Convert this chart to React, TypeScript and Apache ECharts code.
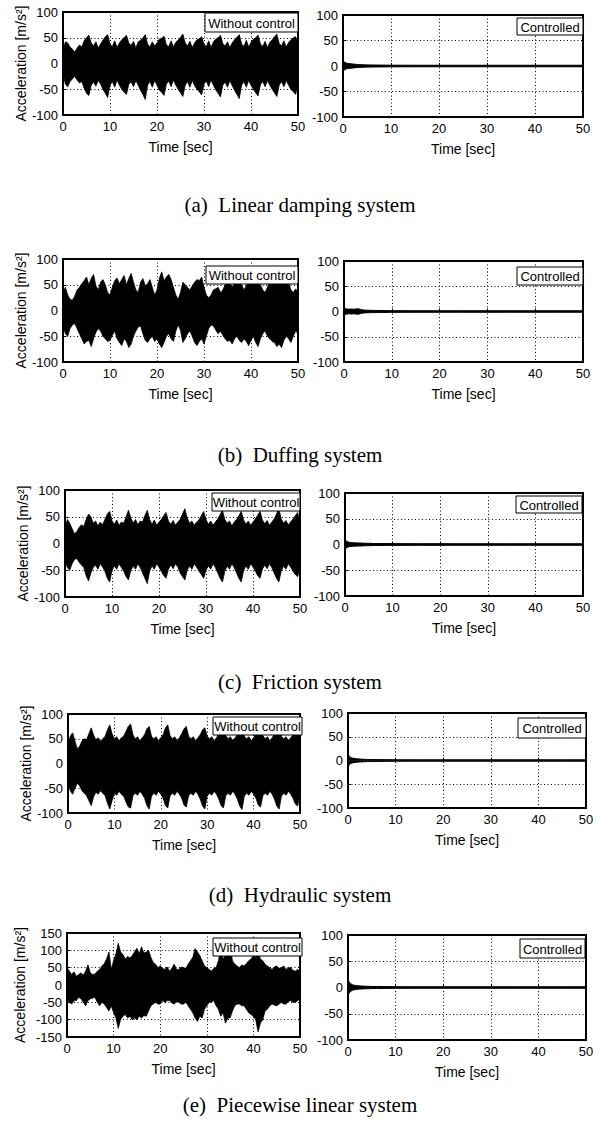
import React, { useEffect, useRef } from "react";
import * as echarts from "echarts";

// sampling step (s) of the envelope readings below
const STEP = 0.5;

// (a) Linear damping system – without control, envelope read every 0.5 s
const linUpper = [25,42,40,32,28,22,30,36,32,44,50,55,40,34,42,30,38,45,52,56,38,33,44,31,40,46,50,55,40,35,43,30,42,45,50,56,38,32,42,34,40,47,49,53,36,33,44,32,41,46,51,57,40,34,43,31,40,46,48,52,37,33,44,31,42,47,50,55,39,34,42,31,40,46,51,56,38,33,45,32,41,47,50,55,38,33,43,31,41,46,52,57,39,34,44,32,41,46,50,52,40];
const linLower = [-20,-40,-45,-35,-30,-25,-32,-38,-35,-48,-58,-62,-42,-36,-44,-33,-40,-50,-58,-66,-42,-35,-46,-32,-42,-50,-56,-60,-40,-36,-45,-33,-42,-52,-60,-70,-42,-35,-46,-33,-42,-52,-56,-62,-40,-34,-45,-32,-42,-50,-57,-64,-42,-35,-46,-33,-43,-50,-55,-61,-40,-34,-45,-32,-42,-51,-58,-65,-42,-36,-46,-33,-43,-52,-60,-68,-42,-35,-46,-33,-42,-50,-57,-63,-41,-35,-45,-33,-42,-50,-57,-64,-42,-35,-45,-33,-42,-50,-55,-60,-40];

// (b) Duffing system
const dufUpper = [35,45,30,22,20,28,40,45,52,58,65,50,62,70,48,40,55,60,50,35,30,45,58,63,52,60,68,50,62,72,55,40,35,55,62,48,52,60,45,30,40,62,75,58,65,70,60,45,30,22,35,55,50,45,40,48,55,60,58,65,45,30,25,30,40,42,45,35,40,50,55,52,45,55,58,60,50,40,48,55,50,58,62,65,50,40,35,45,58,65,70,60,55,50,62,65,55,40,35,42,35];
const dufLower = [-30,-45,-50,-35,-28,-25,-35,-45,-55,-65,-60,-58,-70,-55,-42,-35,-40,-50,-55,-60,-58,-48,-40,-55,-62,-68,-55,-60,-72,-65,-50,-40,-32,-30,-45,-58,-62,-55,-50,-60,-55,-65,-72,-62,-50,-45,-55,-60,-40,-28,-38,-62,-55,-45,-40,-50,-62,-68,-60,-55,-65,-50,-35,-28,-30,-38,-45,-40,-48,-55,-60,-58,-65,-55,-50,-58,-62,-55,-60,-68,-58,-50,-62,-70,-55,-45,-40,-50,-55,-60,-62,-70,-65,-72,-58,-50,-55,-62,-50,-40,-45];

// (c) Friction system
const friUpper = [30,45,38,28,18,22,30,35,32,45,55,50,38,42,33,40,35,45,55,60,42,36,44,34,40,38,50,62,48,38,45,35,42,40,52,62,45,36,44,34,40,45,52,58,42,36,43,34,40,45,55,65,48,38,42,34,40,44,52,60,45,36,42,34,40,46,54,62,45,38,42,33,40,45,52,60,44,36,42,34,40,46,53,60,44,37,43,34,40,46,55,65,46,38,43,35,40,46,52,58,40];
const friLower = [-30,-45,-50,-38,-30,-28,-35,-40,-45,-60,-70,-55,-45,-40,-48,-38,-44,-52,-65,-72,-50,-42,-48,-38,-45,-52,-62,-68,-50,-42,-48,-38,-45,-55,-65,-75,-52,-42,-48,-38,-44,-52,-60,-65,-48,-40,-47,-38,-44,-55,-62,-68,-50,-42,-48,-38,-44,-52,-58,-65,-50,-42,-48,-38,-45,-55,-65,-72,-52,-42,-48,-38,-45,-55,-65,-72,-50,-42,-48,-38,-44,-52,-60,-65,-48,-40,-47,-38,-45,-55,-65,-72,-52,-42,-48,-38,-44,-52,-58,-62,-45];

// (d) Hydraulic system
const hydUpper = [40,55,62,45,30,35,45,50,48,60,72,58,48,52,45,50,55,68,78,60,50,54,46,52,55,65,75,80,58,50,54,46,52,58,70,75,55,50,54,46,52,58,72,78,56,50,54,46,52,60,70,75,55,50,54,46,52,58,68,72,55,50,54,46,52,60,70,76,56,50,54,46,52,58,70,75,55,50,54,46,52,60,72,78,56,50,54,46,52,60,70,76,55,50,54,46,52,58,68,72,50];
const hydLower = [-40,-55,-62,-50,-40,-45,-55,-60,-65,-75,-85,-68,-58,-62,-55,-60,-65,-80,-92,-75,-60,-64,-56,-62,-66,-78,-88,-90,-65,-60,-64,-56,-62,-70,-85,-92,-66,-60,-64,-56,-62,-70,-85,-90,-65,-60,-64,-56,-62,-70,-84,-88,-65,-60,-64,-56,-62,-72,-86,-92,-66,-60,-64,-56,-62,-72,-85,-90,-65,-60,-64,-56,-62,-72,-86,-93,-66,-60,-64,-56,-62,-70,-84,-88,-65,-60,-64,-56,-62,-72,-86,-92,-66,-60,-64,-56,-62,-70,-82,-86,-60];

// (e) Piecewise linear system
const pwlUpper = [50,40,30,38,25,30,35,28,40,58,35,30,32,40,45,55,62,75,95,45,70,90,120,95,88,75,82,78,85,95,106,90,110,92,95,100,80,65,60,50,55,48,45,52,40,48,60,45,45,52,50,48,60,70,80,105,95,85,70,55,50,45,40,48,50,70,110,75,85,95,115,70,60,55,50,58,55,62,70,75,85,80,100,75,70,60,55,50,45,52,55,48,50,55,45,50,50,42,40,45,40];
const pwlLower = [-40,-50,-55,-45,-45,-35,-40,-50,-60,-45,-40,-38,-35,-50,-60,-50,-55,-65,-75,-60,-80,-95,-125,-100,-90,-85,-95,-90,-100,-95,-100,-90,-95,-88,-90,-75,-60,-55,-50,-55,-55,-45,-50,-45,-45,-52,-55,-48,-50,-55,-55,-50,-60,-70,-80,-95,-105,-90,-95,-70,-60,-50,-50,-45,-60,-70,-90,-80,-110,-95,-95,-75,-60,-55,-55,-60,-60,-70,-80,-85,-90,-100,-135,-110,-100,-75,-70,-60,-55,-58,-60,-55,-50,-55,-55,-48,-45,-50,-50,-45,-40];

// Controlled responses: residual amplitude envelope at irregular times
const ctrlTime = [0, 0.3, 0.6, 1, 1.5, 2, 2.5, 3, 3.5, 4, 5, 6, 8, 10, 15, 20, 25, 30, 35, 40, 45, 50];
const ctrlAmpA = [10, 8, 6, 5, 4.5, 4, 3.5, 3, 2.8, 2.5, 2.2, 2, 1.8, 1.6, 1.5, 1.5, 1.5, 1.5, 1.5, 1.5, 1.5, 1.5];
const ctrlAmpB = [8, 6, 5, 4.5, 5, 4.5, 5, 5.5, 4, 3, 2.5, 2.2, 2, 1.7, 1.6, 1.5, 1.5, 1.6, 1.5, 1.5, 1.5, 1.5];
const ctrlAmpC = [9, 7, 5, 4, 3.5, 3.5, 3, 3, 2.8, 2.5, 2.3, 2, 1.8, 1.7, 1.6, 1.6, 1.5, 1.5, 1.5, 1.5, 1.5, 1.5];
const ctrlAmpD = [14, 9, 6, 5, 4, 3.5, 3, 2.8, 2.5, 2.3, 2, 2, 1.8, 1.6, 1.5, 1.5, 1.5, 1.5, 1.5, 1.5, 1.5, 1.5];
const ctrlAmpE = [14, 10, 7, 5, 4, 3.5, 3, 2.8, 2.5, 2.3, 2, 2, 1.8, 1.6, 1.5, 1.5, 1.5, 1.5, 1.5, 1.5, 1.5, 1.5];

const captions = [
  "(a)  Linear damping system",
  "(b)  Duffing system",
  "(c)  Friction system",
  "(d)  Hydraulic system",
  "(e)  Piecewise linear system",
];
const yLimits = [100, 100, 100, 100, 150];

// layout (pixels)
const layout = [
  { L: [63, 12, 235, 103], R: [343, 15, 240, 102], cap: 205, boxL: [205, 13, 93, 19], boxR: [517, 18, 66, 17] },
  { L: [63, 259, 235, 103], R: [344, 261, 239, 101], cap: 455, boxL: [206, 266, 92, 18], boxR: [517, 267, 66, 18] },
  { L: [65, 490, 235, 107], R: [345, 493, 238, 103], cap: 682, boxL: [212, 493, 88, 18], boxR: [516, 496, 66, 17] },
  { L: [68, 714, 232, 99], R: [348, 713, 238, 95], cap: 895, boxL: [213, 717, 89, 18], boxR: [518, 718, 68, 20] },
  { L: [67, 933, 233, 104], R: [348, 935, 238, 105], cap: 1105, boxL: [213, 938, 89, 18], boxR: [520, 939, 65, 19] },
];

const uppers = [linUpper, dufUpper, friUpper, hydUpper, pwlUpper];
const lowers = [linLower, dufLower, friLower, hydLower, pwlLower];
const ctrlAmps = [ctrlAmpA, ctrlAmpB, ctrlAmpC, ctrlAmpD, ctrlAmpE];

const SANS = "'Liberation Sans', Arial, sans-serif";
const SERIF = "'Liberation Serif', 'Times New Roman', serif";

function buildOption() {
  const grid: any[] = [];
  const xAxis: any[] = [];
  const yAxis: any[] = [];
  const series: any[] = [];
  const graphic: any[] = [];

  const dotted = { color: "#000", width: 1, type: [1, 2.5] };

  layout.forEach((lay, r) => {
    [lay.L, lay.R].forEach((g, side) => {
      const idx = grid.length;
      grid.push({
        left: g[0], top: g[1], width: g[2], height: g[3],
        show: true, borderColor: "#000", borderWidth: 2, backgroundColor: "#fff",
      });
      xAxis.push({
        gridIndex: idx, type: "value", min: 0, max: 50, interval: 10,
        name: "Time [sec]", nameLocation: "middle", nameGap: 25,
        nameTextStyle: { fontSize: 14, color: "#000", fontFamily: SANS },
        axisLine: { show: false },
        axisTick: { inside: true, length: 3, lineStyle: { color: "#000" } },
        axisLabel: { color: "#000", fontSize: 13, margin: 5, fontFamily: SANS },
        splitLine: { show: true, lineStyle: dotted },
      });
      const ymax = side === 0 ? yLimits[r] : 100;
      yAxis.push({
        gridIndex: idx, type: "value", min: -ymax, max: ymax, interval: 50,
        name: side === 0 ? "Acceleration [m/s²]" : "",
        nameLocation: "middle", nameGap: r === 4 ? 40 : 35,
        nameTextStyle: { fontSize: 14, color: "#000", fontFamily: SANS },
        axisLine: { show: false },
        axisTick: { inside: true, length: 3, lineStyle: { color: "#000" } },
        axisLabel: { color: "#000", fontSize: 13, margin: 5, fontFamily: SANS },
        splitLine: { show: true, lineStyle: dotted },
      });
      let times: number[], up: number[], lo: number[];
      if (side === 0) {
        times = uppers[r].map((_, i) => i * STEP);
        up = uppers[r];
        lo = lowers[r];
      } else {
        times = ctrlTime;
        up = ctrlAmps[r];
        lo = ctrlAmps[r].map((v) => -v);
      }
      const lw = side === 0 ? 0.8 : 1;
      // the upper fill reaches a little below zero (half of the smallest lower
      // excursion) so that it overlaps the lower fill and leaves no seam at 0
      const overlap = Math.max(...lo) / 2;
      series.push({
        type: "line", xAxisIndex: idx, yAxisIndex: idx,
        data: times.map((t, i) => [t, up[i]]),
        showSymbol: false, silent: true, clip: true,
        lineStyle: { color: "#000", width: lw },
        areaStyle: { color: "#000", opacity: 1, origin: overlap },
      });
      series.push({
        type: "line", xAxisIndex: idx, yAxisIndex: idx,
        data: times.map((t, i) => [t, lo[i]]),
        showSymbol: false, silent: true, clip: true,
        lineStyle: { color: "#000", width: lw },
        areaStyle: { color: "#000", opacity: 1, origin: 0 },
      });
    });

    const boxes: [number[], string][] = [[lay.boxL, "Without control"], [lay.boxR, "Controlled"]];
    boxes.forEach(([b, label]) => {
      graphic.push({
        type: "rect", z: 100,
        shape: { x: b[0], y: b[1], width: b[2], height: b[3] },
        style: { fill: "#fff", stroke: "#000", lineWidth: 1 },
      });
      graphic.push({
        type: "text", z: 101, x: b[0] + b[2] / 2, y: b[1] + b[3] / 2 + 0.5,
        style: { text: label, font: `13px ${SANS}`, fill: "#000", textAlign: "center", verticalAlign: "middle" },
      });
    });

    graphic.push({
      type: "text", z: 100, x: 300, y: lay.cap,
      style: { text: captions[r], font: `21px ${SERIF}`, fill: "#000", textAlign: "center", verticalAlign: "middle" },
    });
  });

  return { animation: false, backgroundColor: "#fff", grid, xAxis, yAxis, series, graphic };
}

export default function App() {
  const ref = useRef<HTMLDivElement>(null);
  useEffect(() => {
    if (!ref.current) return;
    const chart = echarts.init(ref.current, undefined, { renderer: "svg" });
    chart.setOption(buildOption() as any);
    return () => chart.dispose();
  }, []);
  return (
    <div
      ref={ref}
      style={{ position: "absolute", left: 0, top: 0, width: 601, height: 1131, background: "#fff" }}
    />
  );
}
